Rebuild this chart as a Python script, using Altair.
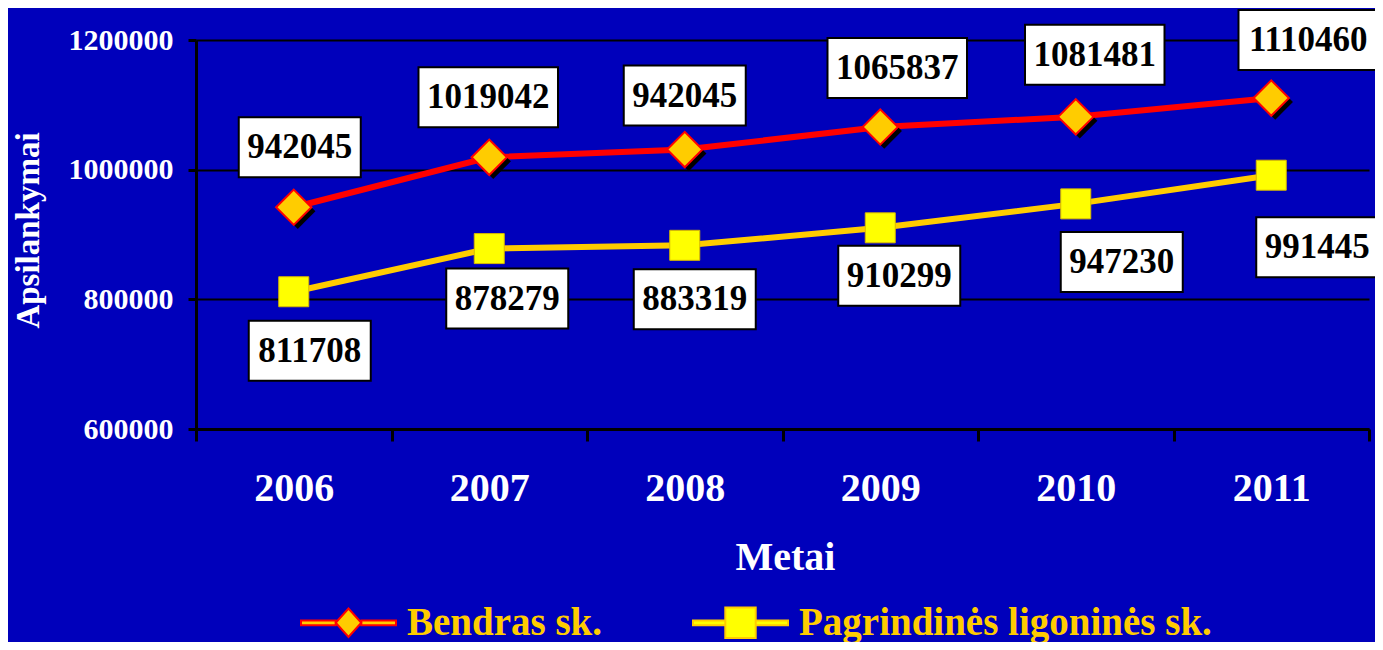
import altair as alt
import pandas as pd

# ---------------- data ----------------
years = [2006, 2007, 2008, 2009, 2010, 2011]
series_names = ["Bendras sk.", "Pagrindinės ligoninės sk."]
bendras_values = [942045, 1019042, 1031000, 1065837, 1081481, 1110460]
bendras_labels = ["942045", "1019042", "942045", "1065837", "1081481", "1110460"]
pagrind_values = [811708, 878279, 883319, 910299, 947230, 991445]
pagrind_labels = ["811708", "878279", "883319", "910299", "947230", "991445"]
y_ticks = [600000, 800000, 1000000, 1200000]

# ---------------- styling ----------------
W, H = 1173, 389
Y_MIN, Y_MAX = 600000, 1200000
BG = "#0000BB"
RED = "#FF0000"
GOLD = "#FFCC00"
YELLOW = "#FFFF00"
FONT = "Liberation Serif"

# manual label offsets in pixels (label centre relative to its point)
bendras_dx = [6, -1, 0, 17, 19, 37]
bendras_dy = [-60, -60, -54, -59, -62, -58]
pagrind_dx = [16, 18, 10, 19, 46, 46]
pagrind_dy = [59, 50, 54, 48, 58, 72]

px_per_year = W / len(years)
val_per_px = (Y_MAX - Y_MIN) / H

rows = []
for s, vals, labs in [(series_names[0], bendras_values, bendras_labels),
                      (series_names[1], pagrind_values, pagrind_labels)]:
    for yr, v, lab in zip(years, vals, labs):
        rows.append({"year": yr, "series": s, "value": v, "label": lab})
df = pd.DataFrame(rows)

lab_rows = []
for s, vals, labs, dxs, dys in [(series_names[0], bendras_values, bendras_labels, bendras_dx, bendras_dy),
                                (series_names[1], pagrind_values, pagrind_labels, pagrind_dx, pagrind_dy)]:
    for yr, v, lab, dx, dy in zip(years, vals, labs, dxs, dys):
        lx = yr + dx / px_per_year
        ly = v - dy * val_per_px
        half_w = (17.5 * len(lab) + 17) / 2
        half_h = 30
        lab_rows.append({
            "lx": lx, "ly": ly,
            "x1": lx - half_w / px_per_year, "x2": lx + half_w / px_per_year,
            "y1": ly - half_h * val_per_px, "y2": ly + half_h * val_per_px,
            "label": lab,
        })
ldf = pd.DataFrame(lab_rows)

y_axis = alt.Axis(
    values=y_ticks, format="d", grid=True, gridColor="black", gridWidth=2,
    domainColor="black", domainWidth=3, tickColor="black", tickWidth=3, tickSize=8,
    labelColor="white", labelFont=FONT, labelFontWeight="bold", labelFontSize=30,
    labelPadding=15, title="Apsilankymai", titleColor="white", titleFont=FONT,
    titleFontWeight="bold", titleFontSize=33, titleAngle=270, titleX=-168, titleY=190,
    titleAlign="center", titleBaseline="middle",
)
y_scale = alt.Scale(domain=[Y_MIN, Y_MAX], nice=False, zero=False)

x_enc = alt.X(
    "year:O",
    scale=alt.Scale(type="band", domain=years, paddingInner=0, paddingOuter=0),
    axis=alt.Axis(
        tickBand="extent", grid=False, domainColor="black", domainWidth=3,
        tickColor="black", tickWidth=3, tickSize=12, labelAngle=0,
        labelColor="white", labelFont=FONT, labelFontWeight="bold", labelFontSize=40,
        labelBaseline="middle", labelPadding=47,
        title="Metai", titleColor="white", titleFont=FONT, titleFontWeight="bold",
        titleFontSize=40, titleY=128, titleX=589, titleBaseline="middle",
    ),
)
y_enc = alt.Y("value:Q", scale=y_scale, axis=y_axis, title="Apsilankymai")

base = alt.Chart(df)
b_only = base.transform_filter(alt.datum.series == series_names[0])
p_only = base.transform_filter(alt.datum.series == series_names[1])

line_b = b_only.mark_line(color=RED, strokeWidth=6).encode(x=x_enc, y=y_enc)
line_p = p_only.mark_line(color=GOLD, strokeWidth=6).encode(x=x_enc, y=y_enc)
shadow = b_only.mark_point(shape="diamond", filled=True, color="black", size=1250,
                           opacity=1, xOffset=4, yOffset=4).encode(x=x_enc, y=y_enc)
diam = b_only.mark_point(shape="diamond", filled=True, fill=GOLD, stroke=RED,
                         strokeWidth=2, size=1250, opacity=1).encode(x=x_enc, y=y_enc)
squares = p_only.mark_point(shape="square", filled=True, fill=YELLOW, stroke="#D8B800",
                            strokeWidth=1, size=900, opacity=1).encode(x=x_enc, y=y_enc)

# legend-only layer (no rows drawn; legend built from explicit domains)
path_b = ("M-1,-0.05L-0.27,-0.05L-0.27,0.05L-1,0.05Z "
          "M0.27,-0.05L1,-0.05L1,0.05L0.27,0.05Z "
          "M-0.27,0L0,-0.3L0.27,0L0,0.3Z")
path_p = ("M-1,-0.05L-0.32,-0.05L-0.32,0.05L-1,0.05Z "
          "M0.32,-0.05L1,-0.05L1,0.05L0.32,0.05Z "
          "M-0.32,-0.32L0.32,-0.32L0.32,0.32L-0.32,0.32Z")
legend_def = alt.Legend(
    title=None, orient="none", legendX=104, legendY=534, direction="horizontal",
    padding=0, symbolSize=9025, symbolStrokeWidth=2, labelOffset=10, columnPadding=86,
    labelFont=FONT, labelFontWeight="bold", labelFontSize=39, labelColor=GOLD,
    labelLimit=1000, symbolOpacity=1,
)
legend_layer = base.transform_filter(alt.datum.value < 0).mark_point(filled=True).encode(
    x=x_enc, y=y_enc,
    fill=alt.Fill("series:N", scale=alt.Scale(domain=series_names, range=[GOLD, YELLOW]), legend=legend_def),
    stroke=alt.Stroke("series:N", scale=alt.Scale(domain=series_names, range=[RED, GOLD]), legend=legend_def),
    shape=alt.Shape("series:N", scale=alt.Scale(domain=series_names, range=[path_b, path_p]), legend=legend_def),
)

lx_scale = alt.Scale(domain=[years[0] - 0.5, years[-1] + 0.5], nice=False, zero=False)
boxes = alt.Chart(ldf).mark_rect(fill="white", stroke="black", strokeWidth=2).encode(
    x=alt.X("x1:Q", scale=lx_scale, axis=None),
    x2="x2:Q",
    y=alt.Y("y1:Q", scale=y_scale, axis=y_axis, title="Apsilankymai"),
    y2="y2:Q",
)
texts = alt.Chart(ldf).mark_text(font=FONT, fontWeight="bold", fontSize=35, color="black",
                                 align="center", baseline="middle").encode(
    x=alt.X("lx:Q", scale=lx_scale, axis=None),
    y=alt.Y("ly:Q", scale=y_scale, axis=y_axis, title="Apsilankymai"),
    text="label:N",
)

series_layer = alt.layer(line_b, line_p, shadow, diam, squares, legend_layer)
label_layer = alt.layer(boxes, texts)

chart = alt.layer(series_layer, label_layer).resolve_scale(x="independent").properties(
    width=W, height=H,
    padding={"left": 188, "top": 32, "right": 6, "bottom": 213},
    autosize=alt.AutoSizeParams(type="none"),
    background=BG,
).configure_view(stroke=None)

chart.save("out.html", embed_options={"renderer": "svg", "actions": False})
